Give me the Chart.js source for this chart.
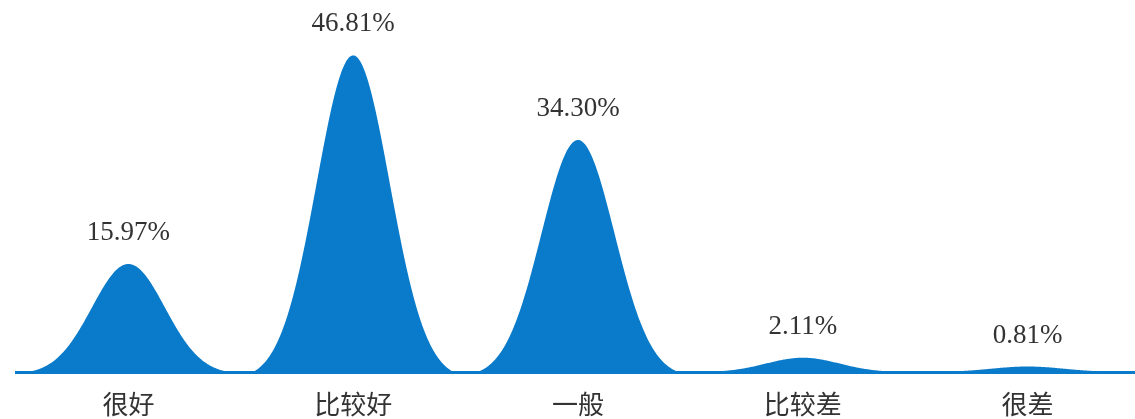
<!DOCTYPE html>
<html>
<head>
<meta charset="utf-8">
<script src="https://cdn.jsdelivr.net/npm/chart.js@4"></script>
<style>
    html, body { margin: 0; padding: 0; background: #fff; overflow: hidden; }
    #wrap { width: 1140px; height: 419px; position: relative; }
</style>
</head>
<body>
<div id="wrap"><canvas id="bellChart"></canvas></div>
<script>
// Данные диаграммы
const categories = ['很好', '比较好', '一般', '比较差', '很差'];
const percentValues = [15.97, 46.81, 34.30, 2.11, 0.81];
const percentLabels = ['15.97%', '46.81%', '34.30%', '2.11%', '0.81%'];

const BLUE = '#0a7bca';
const TEXT = '#333333';

// Рисуем каждый столбец в виде "колокола" по координатам элемента
const bellPlugin = {
    id: 'bellShape',
    beforeDatasetDraw(chart, args) {
        const ctx = chart.ctx;
        const meta = args.meta;
        ctx.save();
        ctx.fillStyle = BLUE;
        meta.data.forEach(bar => {
            const half = bar.width / 2;
            const sigma = half * 0.365;
            const edge = Math.exp(-(half * half) / (2 * sigma * sigma));
            const h = bar.base - bar.y;
            ctx.beginPath();
            ctx.moveTo(bar.x - half, bar.base);
            for (let dx = -half; dx <= half; dx += 1) {
                const g = Math.exp(-(dx * dx) / (2 * sigma * sigma));
                ctx.lineTo(bar.x + dx, bar.base - h * (g - edge) / (1 - edge));
            }
            ctx.lineTo(bar.x + half, bar.base);
            ctx.closePath();
            ctx.fill();
        });
        ctx.restore();
        return false;
    },
    afterDatasetsDraw(chart) {
        const ctx = chart.ctx;
        const meta = chart.getDatasetMeta(0);
        ctx.save();
        ctx.fillStyle = TEXT;
        ctx.font = '27px "Liberation Serif", "Times New Roman", serif';
        ctx.textAlign = 'center';
        ctx.textBaseline = 'middle';
        meta.data.forEach((bar, i) => {
            ctx.fillText(percentLabels[i], bar.x, bar.y - 31);
        });
        ctx.restore();
    }
};

new Chart(document.getElementById('bellChart'), {
    type: 'bar',
    data: {
        labels: categories,
        datasets: [{
            data: percentValues,
            backgroundColor: BLUE,
            categoryPercentage: 1,
            barPercentage: 0.89
        }]
    },
    options: {
        responsive: true,
        maintainAspectRatio: false,
        animation: false,
        layout: { padding: { left: 16, right: 0, top: 0, bottom: 0 } },
        plugins: {
            legend: { display: false },
            tooltip: { enabled: false }
        },
        scales: {
            x: {
                grid: { display: false, drawTicks: false },
                border: { display: true, color: BLUE, width: 3 },
                ticks: {
                    color: TEXT,
                    padding: 17,
                    font: { family: '"Noto Sans CJK SC", sans-serif', size: 26 }
                },
                afterFit(scale) { scale.height = 47; }
            },
            y: {
                display: false,
                min: 0,
                max: 55
            }
        }
    },
    plugins: [bellPlugin]
});
</script>
</body>
</html>
